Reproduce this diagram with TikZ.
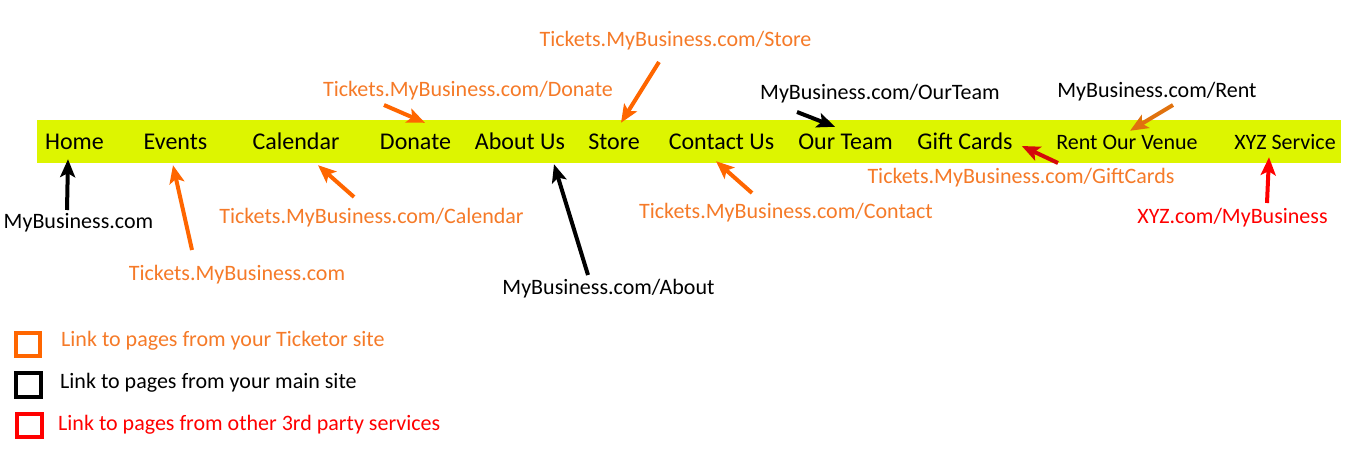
\documentclass[tikz,border=0pt]{standalone}
\usepackage{fontspec}
\setmainfont{Carlito}
\usetikzlibrary{arrows.meta}
\definecolor{barlime}{HTML}{DDF500}
\definecolor{tktorange}{HTML}{F57A28}
\definecolor{arrorange}{HTML}{FF6600}
\definecolor{rentorange}{HTML}{E0720E}
\definecolor{giftred}{HTML}{D40A0A}
\definecolor{xyzred}{HTML}{FF0000}
\tikzset{
  menu/.style={inner sep=0pt, text height=16pt, text depth=5pt, font=\fontsize{24}{28}\selectfont},
  menusmall/.style={inner sep=0pt, text height=14.5pt, text depth=4.5pt, font=\fontsize{22}{26}\selectfont},
  url/.style={inner sep=0pt, text height=15pt, text depth=5pt, font=\fontsize{22}{26}\selectfont},
  link/.style={line width=4pt, -{Stealth[length=18pt,width=15pt,inset=4pt]}},
  keybox/.style={draw, line width=4pt, inner sep=0pt, minimum width=24pt, minimum height=23pt}
}
\begin{document}
\begin{tikzpicture}[x=1pt,y=-1pt]
\useasboundingbox (0,0) rectangle (1358,452);
\fill[barlime] (37,120) rectangle (1341,163);
% menu bar
\node[menu] (home) at (74.5,144) {Home};
\node[menu] (events) at (175.5,144) {Events};
\node[menu] (calendar) at (296,144) {Calendar};
\node[menu] (donate) at (415.5,144) {Donate};
\node[menu] (about) at (520,144) {About Us};
\node[menu] (store) at (614,144) {Store};
\node[menu] (contact) at (721.5,144) {Contact Us};
\node[menu] (team) at (845.5,144) {Our Team};
\node[menu] (gift) at (965,144) {Gift Cards};
\node[menusmall] (rent) at (1127,144) {Rent Our Venue};
\node[menusmall] (xyz) at (1285,144) {XYZ Service};
% link labels
\node[url] (l-home) at (78.5,223.5) {MyBusiness.com};
\node[url, tktorange] (l-events) at (237,275) {Tickets.MyBusiness.com};
\node[url, tktorange] (l-calendar) at (371.5,218.3) {Tickets.MyBusiness.com/Calendar};
\node[url, tktorange] (l-donate) at (468,91) {Tickets.MyBusiness.com/Donate};
\node[url, tktorange] (l-store) at (675.5,41.7) {Tickets.MyBusiness.com/Store};
\node[url] (l-about) at (608.5,289) {MyBusiness.com/About};
\node[url, tktorange] (l-contact) at (786,213.3) {Tickets.MyBusiness.com/Contact};
\node[url] (l-team) at (880,94.3) {MyBusiness.com/OurTeam};
\node[url] (l-rent) at (1157,92.3) {MyBusiness.com/Rent};
\node[url, tktorange] (l-gift) at (1021,178.3) {Tickets.MyBusiness.com/GiftCards};
\node[url, xyzred] (l-xyz) at (1232.5,218.3) {XYZ.com/MyBusiness};
% arrow tails
\coordinate (t-home) at (67,210);
\coordinate (t-events) at (192,250);
\coordinate (t-calendar) at (354,197);
\coordinate (t-donate) at (384,105);
\coordinate (t-store) at (659,62);
\coordinate (t-about) at (588,275);
\coordinate (t-contact) at (752,193);
\coordinate (t-team) at (797,112);
\coordinate (t-gift) at (1058,163);
\coordinate (t-rent) at (1173,105);
\coordinate (t-xyz) at (1267,203);
\draw[link, black] (t-home) -- ([xshift=-6.5pt,yshift=-4.5pt]home.south);
\draw[link, arrorange] (t-events) -- ([xshift=-2.5pt,yshift=-10.5pt]events.south);
\draw[link, arrorange] (t-calendar) -- ([xshift=22pt,yshift=-10.5pt]calendar.south);
\draw[link, arrorange] (t-donate) -- ([xshift=9.5pt,yshift=10.5pt]donate.north);
\draw[link, arrorange] (t-store) -- ([xshift=7pt,yshift=10.5pt]store.north);
\draw[link, black] (t-about) -- ([xshift=34pt,yshift=-9.5pt]about.south);
\draw[link, arrorange] (t-contact) -- ([xshift=-5.5pt,yshift=-6.5pt]contact.south);
\draw[link, black] (t-team) -- ([xshift=-10.5pt,yshift=6.5pt]team.north);
\draw[link, giftred] (t-gift) -- ([xshift=9pt,yshift=-2pt]gift.east);
\draw[link, rentorange] (t-rent) -- ([xshift=3pt,yshift=3.5pt]rent.north);
\draw[link, xyzred] (t-xyz) -- ([xshift=-16pt,yshift=-3.5pt]xyz.south);
% legend
\node[keybox, arrorange] (k-tkt) at (28,344) {};
\node[keybox, black, minimum width=25pt, minimum height=24pt] (k-main) at (28.3,384.5) {};
\node[keybox, xyzred, minimum width=25pt] (k-other) at (29.5,425.5) {};
\node[url, tktorange, anchor=west] (k-tkt-txt) at (61,341.7) {Link to pages from your Ticketor site};
\node[url, anchor=west] (k-main-txt) at (60,383.3) {Link to pages from your main site};
\node[url, xyzred, anchor=west] (k-other-txt) at (58,425) {Link to pages from other 3rd party services};
\end{tikzpicture}
\end{document}
